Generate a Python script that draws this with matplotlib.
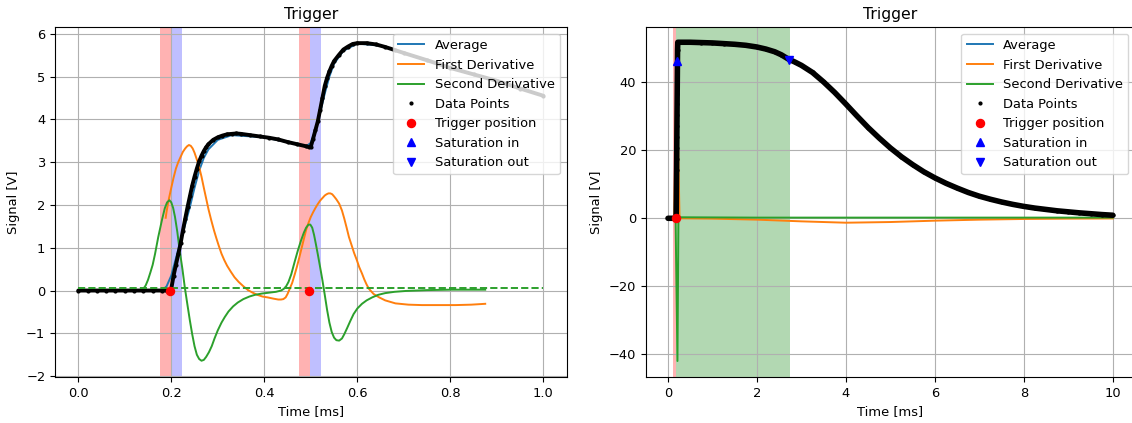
import numpy as np
import matplotlib
matplotlib.use("Agg")
import matplotlib.pyplot as plt

plt.rcParams["font.size"] = 9.4
plt.rcParams["axes.titlesize"] = 11.3

# ---------------- Left panel data (time in ms, signal in V) ----------------
left_data_t = [0.0, 0.02, 0.04, 0.06, 0.08, 0.10, 0.12, 0.14, 0.16, 0.18, 0.19, 0.195,
               0.200, 0.205, 0.210, 0.215, 0.220, 0.225, 0.230, 0.235, 0.240, 0.245,
               0.250, 0.255, 0.260, 0.265, 0.270, 0.275, 0.280, 0.290, 0.300, 0.310,
               0.320, 0.330, 0.340, 0.350, 0.370, 0.390, 0.410, 0.430, 0.450, 0.470,
               0.490, 0.497, 0.500, 0.505, 0.510, 0.515, 0.520, 0.525, 0.530, 0.535,
               0.540, 0.545, 0.550, 0.560, 0.570, 0.580, 0.590, 0.600, 0.620, 0.640,
               0.660, 0.680, 0.700, 0.750, 0.800, 0.850, 0.900, 0.950, 1.000]
left_data_v = [0.0, 0.0, 0.0, 0.0, 0.0, 0.0, 0.0, 0.0, 0.0, 0.0, 0.0, -0.02,
               0.04, 0.35, 0.60, 0.85, 1.10, 1.40, 1.68, 1.95, 2.20, 2.45,
               2.66, 2.85, 3.02, 3.15, 3.26, 3.35, 3.42, 3.52, 3.58, 3.62,
               3.65, 3.66, 3.67, 3.66, 3.63, 3.60, 3.57, 3.53, 3.47, 3.42,
               3.37, 3.35, 3.36, 3.55, 3.75, 3.95, 4.22, 4.50, 4.78, 4.97,
               5.12, 5.25, 5.36, 5.50, 5.63, 5.70, 5.76, 5.78, 5.78, 5.75,
               5.69, 5.62, 5.55, 5.38, 5.20, 5.05, 4.90, 4.72, 4.55]

left_avg_t = [0.0, 0.18, 0.19, 0.20, 0.21, 0.22, 0.23, 0.24, 0.25, 0.26, 0.27, 0.28,
              0.30, 0.33, 0.40, 0.47, 0.49, 0.50, 0.51, 0.52, 0.53, 0.54, 0.55, 0.57,
              0.60, 0.65, 0.70, 0.80, 0.90, 1.00]
left_avg_v = [0.0, 0.0, 0.10, 0.35, 0.75, 1.15, 1.55, 1.95, 2.40, 2.80, 3.10, 3.30,
              3.52, 3.63, 3.58, 3.42, 3.37, 3.45, 3.75, 4.15, 4.60, 5.00, 5.30, 5.60,
              5.77, 5.72, 5.55, 5.20, 4.90, 4.55]

left_d1_t = [0.188, 0.19, 0.195, 0.20, 0.205, 0.21, 0.215, 0.22, 0.225, 0.23, 0.234,
             0.238, 0.242, 0.246, 0.25, 0.255, 0.26, 0.265, 0.27, 0.275, 0.28,
             0.286, 0.292, 0.297, 0.302, 0.308, 0.314, 0.32, 0.328, 0.336, 0.345,
             0.355, 0.365, 0.375, 0.385, 0.396, 0.407, 0.42, 0.43, 0.436, 0.441,
             0.446, 0.45, 0.455, 0.46, 0.465, 0.47, 0.475, 0.48, 0.485, 0.49,
             0.495, 0.50, 0.505, 0.51, 0.515, 0.52, 0.525, 0.53, 0.534, 0.538,
             0.542, 0.546, 0.55, 0.555, 0.561, 0.567, 0.572, 0.577, 0.582, 0.588,
             0.593, 0.599, 0.604, 0.61, 0.615, 0.62, 0.625, 0.635, 0.647, 0.66,
             0.682, 0.71, 0.739, 0.775, 0.811, 0.845, 0.875]
left_d1_v = [1.70, 1.85, 2.15, 2.40, 2.64, 2.85, 3.00, 3.12, 3.24, 3.32, 3.37,
             3.40, 3.38, 3.32, 3.22, 3.06, 2.88, 2.66, 2.40, 2.15, 1.90,
             1.64, 1.40, 1.22, 1.05, 0.86, 0.71, 0.58, 0.44, 0.31, 0.20,
             0.10, 0.01, -0.05, -0.10, -0.14, -0.16, -0.19, -0.21, -0.21, -0.20,
             -0.16, -0.08, 0.05, 0.18, 0.36, 0.55, 0.76, 0.98, 1.20, 1.42,
             1.58, 1.72, 1.83, 1.93, 2.02, 2.10, 2.16, 2.22, 2.25, 2.27,
             2.27, 2.25, 2.20, 2.13, 2.03, 1.87, 1.68, 1.47, 1.25, 1.05,
             0.88, 0.71, 0.55, 0.40, 0.26, 0.14, 0.04, -0.08, -0.16, -0.23,
             -0.30, -0.33, -0.34, -0.34, -0.34, -0.33, -0.31]

left_d2_t = [0.0, 0.13, 0.14, 0.145, 0.15, 0.155, 0.16, 0.165, 0.172, 0.18, 0.186,
             0.191, 0.196, 0.200, 0.204, 0.208, 0.213, 0.218, 0.224, 0.229, 0.235,
             0.24, 0.245, 0.25, 0.255, 0.26, 0.265, 0.27, 0.275, 0.281, 0.287,
             0.293, 0.30, 0.308, 0.315, 0.323, 0.333, 0.343, 0.355, 0.368, 0.38,
             0.395, 0.41, 0.425, 0.436, 0.442, 0.447, 0.452, 0.458, 0.465, 0.472,
             0.479, 0.485, 0.49, 0.495, 0.499, 0.503, 0.507, 0.511, 0.515, 0.52,
             0.525, 0.53, 0.535, 0.54, 0.545, 0.55, 0.555, 0.561, 0.567, 0.572,
             0.578, 0.585, 0.592, 0.6, 0.61, 0.62, 0.632, 0.645, 0.66, 0.68, 0.704,
             0.75, 0.80, 0.875]
left_d2_v = [0.0, 0.0, 0.04, 0.12, 0.25, 0.42, 0.60, 0.85, 1.25, 1.65, 1.92,
             2.06, 2.11, 2.06, 1.93, 1.72, 1.37, 0.94, 0.50, 0.08, -0.35,
             -0.70, -1.02, -1.30, -1.50, -1.60, -1.64, -1.62, -1.55, -1.44, -1.30,
             -1.12, -0.93, -0.75, -0.62, -0.49, -0.37, -0.28, -0.20, -0.14, -0.10,
             -0.07, -0.05, -0.03, 0.0, 0.04, 0.10, 0.20, 0.38, 0.66, 0.93,
             1.17, 1.35, 1.47, 1.54, 1.54, 1.47, 1.30, 1.08, 0.85, 0.55,
             0.24, -0.10, -0.45, -0.75, -0.97, -1.10, -1.16, -1.17, -1.12, -1.02,
             -0.88, -0.71, -0.55, -0.42, -0.31, -0.23, -0.16, -0.10, -0.06, -0.03, -0.01,
             0.01, 0.02, 0.02]

left_threshold_t = [0.0, 1.0]
left_threshold_v = [0.05, 0.05]

left_trigger_t = [0.197, 0.496]
left_trigger_v = [0.0, 0.0]
left_pre_spans = [(0.1755, 0.199), (0.475, 0.499)]
left_post_spans = [(0.199, 0.222), (0.499, 0.522)]

# ---------------- Right panel data ----------------
right_data_t = [0.0, 0.05, 0.10, 0.15, 0.18, 0.185, 0.187, 0.189, 0.191, 0.193,
                0.195, 0.197, 0.199, 0.201, 0.203, 0.205, 0.207, 0.209, 0.211, 0.213,
                0.215, 0.22, 0.30, 0.50, 0.75, 1.00, 1.25, 1.50, 1.75, 2.00, 2.20,
                2.40, 2.55, 2.70, 2.85, 3.00, 3.25, 3.50, 3.75, 4.00, 4.25, 4.50,
                4.75, 5.00, 5.25, 5.50, 5.75, 6.00, 6.25, 6.50, 6.75, 7.00, 7.25,
                7.50, 7.75, 8.00, 8.25, 8.50, 8.75, 9.00, 9.25, 9.50, 9.75, 10.0]
right_data_v = [0.0, 0.0, 0.0, 0.0, 0.0, 1.5, 4.5, 7.8, 11.0, 14.2,
                17.4, 20.6, 23.9, 27.1, 30.3, 33.5, 36.7, 39.9, 43.1, 46.3,
                49.5, 51.8, 51.8, 51.8, 51.7, 51.6, 51.4, 51.2, 50.9, 50.4, 49.8,
                49.0, 48.1, 46.9, 46.0, 45.0, 42.9, 40.1, 37.0, 33.6, 30.1, 26.7,
                23.6, 20.7, 18.1, 15.8, 13.7, 11.9, 10.3, 8.9, 7.6, 6.5, 5.6,
                4.8, 4.1, 3.5, 3.0, 2.6, 2.2, 1.9, 1.6, 1.35, 1.1, 0.9]

right_avg_t = [0.0, 0.14, 0.17, 0.19, 0.21, 0.22, 0.5, 1.0, 1.5, 2.0, 2.4, 2.7,
               3.0, 3.25, 3.5, 3.75, 4.0, 4.5, 5.0, 5.5, 6.0, 6.5, 7.0, 7.5, 8.0, 8.5,
               9.0, 9.5, 10.0]
right_avg_v = [0.0, 0.0, 10.0, 30.0, 48.0, 51.8, 51.8, 51.6, 51.2, 50.4, 49.0, 46.9,
               45.0, 42.9, 40.1, 37.0, 33.6, 26.7, 20.7, 15.8, 11.9, 8.9, 6.5, 4.8,
               3.5, 2.6, 1.9, 1.35, 0.9]

right_d1_t = [0.0, 0.14, 0.17, 0.20, 0.23, 0.26, 1.0, 2.0, 3.0, 4.0, 5.0, 6.0,
              7.0, 8.0, 9.0, 10.0]
right_d1_v = [0.0, 0.0, 25.0, 50.0, 20.0, 0.0, -0.1, -0.4, -0.9, -1.3, -1.1, -0.7,
              -0.4, -0.2, -0.1, -0.05]

right_d2_t = [0.0, 0.17, 0.213, 0.235, 0.30, 2.0, 4.0, 6.0, 8.0, 10.0]
right_d2_v = [0.0, 0.0, -42.0, 0.3, 0.3, 0.2, 0.2, 0.2, 0.2, 0.2]

right_trigger_t = [0.17]
right_trigger_v = [0.0]
right_sat_in_t = [0.21]
right_sat_in_v = [46.4]
right_sat_out_t = [2.72]
right_sat_out_v = [46.7]
right_pre_spans = [(0.11, 0.17)]
right_sat_spans = [(0.17, 2.74)]


def draw_panel(ax, avg_t, avg_v, d1_t, d1_v, d2_t, d2_v, data_t, data_v,
               trig_t, trig_v, sin_t, sin_v, sout_t, sout_v, data_lw):
    ax.plot(avg_t, avg_v, color="tab:blue", lw=1.4, label="Average", zorder=2)
    ax.plot(d1_t, d1_v, color="tab:orange", lw=1.4, label="First Derivative", zorder=2)
    ax.plot(d2_t, d2_v, color="tab:green", lw=1.4, label="Second Derivative", zorder=2)
    ax.plot(data_t, data_v, color="black", lw=data_lw, solid_capstyle="round", zorder=2.5)
    ax.plot(data_t, data_v, "k.", ms=4, label="Data Points", zorder=2.6)
    ax.plot(trig_t, trig_v, "o", color="red", ms=5.8, label="Trigger position", zorder=4)
    ax.plot(sin_t, sin_v, "^", color="blue", ms=5.8, label="Saturation in", zorder=4)
    ax.plot(sout_t, sout_v, "v", color="blue", ms=5.8, label="Saturation out", zorder=4)
    ax.set_title("Trigger")
    ax.set_xlabel("Time [ms]")
    ax.set_ylabel("Signal [V]")
    ax.grid(True)
    ax.legend(loc="upper right")


fig = plt.figure(figsize=(11.32, 4.23), dpi=100)
axL = fig.add_axes([55 / 1132, 46 / 423, 511.6 / 1132, 349.7 / 423])
axR = fig.add_axes([645.75 / 1132, 46 / 423, 489.25 / 1132, 349.7 / 423])

# Left
for a, b in left_pre_spans:
    axL.axvspan(a, b, color="red", alpha=0.3, lw=0, zorder=1)
for a, b in left_post_spans:
    axL.axvspan(a, b, color="blue", alpha=0.25, lw=0, zorder=1)
draw_panel(axL, left_avg_t, left_avg_v, left_d1_t, left_d1_v, left_d2_t, left_d2_v,
           left_data_t, left_data_v, left_trigger_t, left_trigger_v, [], [], [], [], 2.8)
axL.plot(left_threshold_t, left_threshold_v, "--", color="tab:green", lw=1.4, zorder=2.7)
axL.set_xlim(-0.05, 1.05)
axL.set_ylim(-2.02, 6.15)
axL.set_xticks([0.0, 0.2, 0.4, 0.6, 0.8, 1.0])

# Right
for a, b in right_pre_spans:
    axR.axvspan(a, b, color="red", alpha=0.3, lw=0, zorder=1)
for a, b in right_sat_spans:
    axR.axvspan(a, b, color="green", alpha=0.3, lw=0, zorder=1)
draw_panel(axR, right_avg_t, right_avg_v, right_d1_t, right_d1_v, right_d2_t, right_d2_v,
           right_data_t, right_data_v, right_trigger_t, right_trigger_v,
           right_sat_in_t, right_sat_in_v, right_sat_out_t, right_sat_out_v, 4)
axR.set_xlim(-0.5, 10.5)
axR.set_ylim(-46.7, 56.2)
axR.set_xticks([0, 2, 4, 6, 8, 10])
axR.set_yticks([-40, -20, 0, 20, 40])

fig.savefig("out.png", dpi=100)
